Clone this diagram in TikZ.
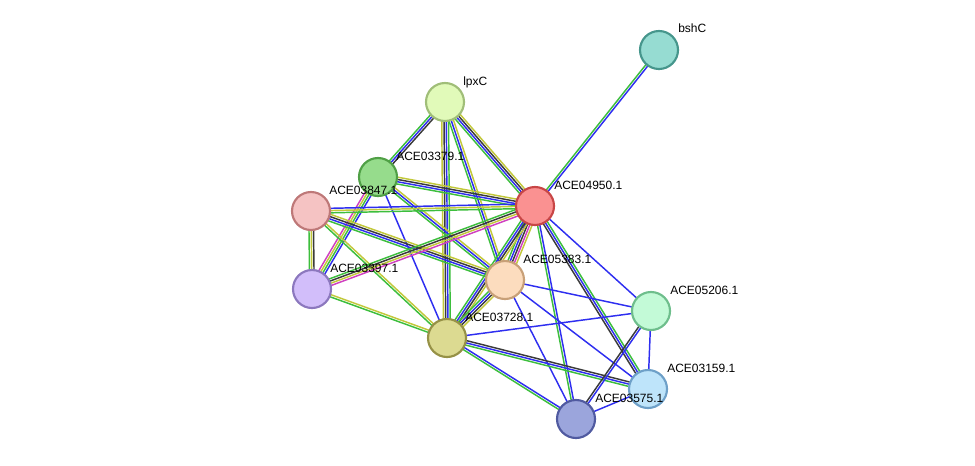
\documentclass[tikz,border=0pt]{standalone}
\usepackage{fontspec}
\setmainfont{Liberation Sans}
\usetikzlibrary{calc,backgrounds}
\definecolor{cg}{HTML}{3DBE3D}
\definecolor{cb}{HTML}{2E2EF0}
\definecolor{ck}{HTML}{3A3A3A}
\definecolor{cy}{HTML}{C2C83A}
\definecolor{cm}{HTML}{D040C0}
\newcommand\edg[4]{%
 \foreach \c [count=\i] in {#4}{%
  \pgfmathsetmacro\off{(\i-1-(#3-1)/2)*1.7}%
  \draw[line width=1.1pt,draw=\c] ($(#1)!\off pt!90:(#2)$) -- ($(#2)!\off pt!-90:(#1)$);}}
\tikzset{prot/.style={circle,minimum size=28.5pt,inner sep=0pt,line width=1.6pt},
 lab/.style={font=\fontsize{9}{10}\selectfont,anchor=base west,inner sep=0pt}}
\begin{document}
\begin{tikzpicture}[x=0.75pt,y=-0.75pt]
\useasboundingbox (0,0) rectangle (975,465);
\node[prot,fill={rgb,255:red,150;green,220;blue,210},draw={rgb,255:red,70;green,150;blue,140}] (bsh) at (659,50) {};
\node[prot,fill={rgb,255:red,225;green,250;blue,185},draw={rgb,255:red,160;green,190;blue,120}] (lpx) at (445,102) {};
\node[prot,fill={rgb,255:red,150;green,220;blue,140},draw={rgb,255:red,80;green,160;blue,70}] (a79) at (378,177) {};
\node[prot,fill={rgb,255:red,245;green,195;blue,195},draw={rgb,255:red,190;green,120;blue,120}] (a47) at (311,211) {};
\node[prot,fill={rgb,255:red,250;green,145;blue,145},draw={rgb,255:red,200;green,70;blue,70}] (a50) at (535,206) {};
\node[prot,fill={rgb,255:red,210;green,190;blue,250},draw={rgb,255:red,140;green,120;blue,190}] (a97) at (312,289) {};
\node[prot,fill={rgb,255:red,252;green,220;blue,190},draw={rgb,255:red,200;green,160;blue,120}] (a83) at (505,280) {};
\node[prot,fill={rgb,255:red,220;green,218;blue,145},draw={rgb,255:red,150;green,145;blue,70}] (a28) at (447,338) {};
\node[prot,fill={rgb,255:red,195;green,250;blue,215},draw={rgb,255:red,110;green,190;blue,140}] (a06) at (651,311) {};
\node[prot,fill={rgb,255:red,190;green,228;blue,250},draw={rgb,255:red,110;green,160;blue,200}] (a59) at (648,389) {};
\node[prot,fill={rgb,255:red,155;green,165;blue,220},draw={rgb,255:red,80;green,90;blue,160}] (a75) at (576,419) {};
\node[lab] at (678,32) {bshC};
\node[lab] at (463,85) {lpxC};
\node[lab] at (396,160) {ACE03379.1};
\node[lab] at (329,194) {ACE03847.1};
\node[lab] at (554,189) {ACE04950.1};
\node[lab] at (330,272) {ACE03397.1};
\node[lab] at (523,263) {ACE05383.1};
\node[lab] at (465,321) {ACE03728.1};
\node[lab] at (670,294) {ACE05206.1};
\node[lab] at (667,372) {ACE03159.1};
\node[lab] at (595,402) {ACE03575.1};
\begin{pgfonlayer}{background}
\edg{bsh}{a50}{2}{cg,cb}
\edg{lpx}{a79}{3}{cg,cb,ck}
\edg{lpx}{a50}{4}{cg,cb,ck,cy}
\edg{lpx}{a83}{3}{cg,cb,cy}
\edg{lpx}{a28}{4}{cy,ck,cb,cg}
\edg{a79}{a50}{4}{cg,cb,ck,cy}
\edg{a79}{a97}{4}{cm,cy,cg,cb}
\edg{a79}{a28}{1}{cb}
\edg{a79}{a83}{3}{cg,cb,cy}
\edg{a47}{a50}{3}{cg,cy,cb}
\edg{a47}{a97}{3}{cg,cy,ck}
\edg{a47}{a83}{4}{cg,cb,ck,cy}
\edg{a47}{a28}{2}{cg,cy}
\edg{a97}{a50}{4}{cm,cy,ck,cg}
\edg{a97}{a28}{2}{cg,cy}
\edg{a50}{a83}{5}{cg,cb,ck,cm,cy}
\edg{a50}{a28}{4}{cg,cb,ck,cy}
\edg{a50}{a06}{1}{cb}
\edg{a50}{a59}{3}{ck,cb,cg}
\edg{a50}{a75}{2}{cg,cb}
\edg{a83}{a28}{4}{cg,cb,ck,cy}
\edg{a83}{a06}{1}{cb}
\edg{a83}{a59}{1}{cb}
\edg{a83}{a75}{1}{cb}
\edg{a28}{a06}{1}{cb}
\edg{a28}{a59}{3}{cg,cb,ck}
\edg{a28}{a75}{2}{cg,cb}
\edg{a06}{a75}{2}{ck,cb}
\edg{a06}{a59}{1}{cb}
\edg{a59}{a75}{1}{cb}
\end{pgfonlayer}
\end{tikzpicture}
\end{document}
